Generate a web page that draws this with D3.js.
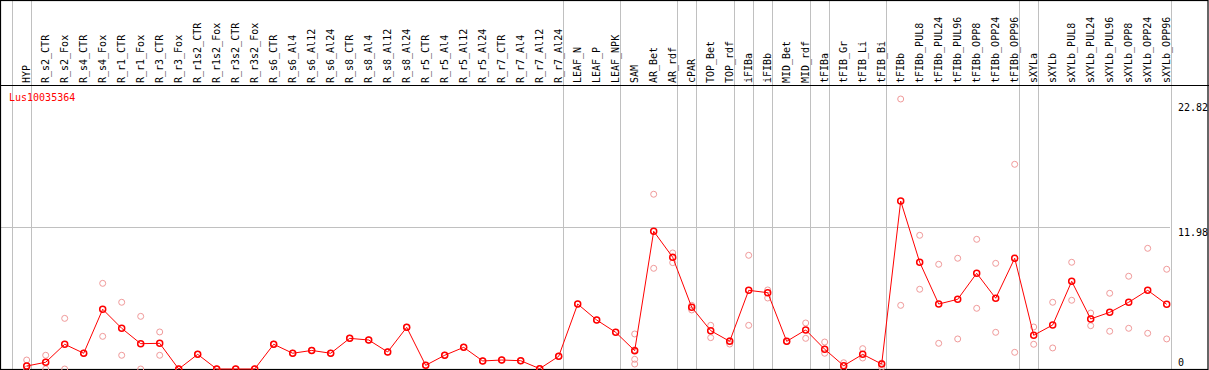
<!DOCTYPE html>
<html><head><meta charset="utf-8">
<script src="https://cdn.jsdelivr.net/npm/d3@7"></script>
<style>html,body{margin:0;padding:0;background:#fff;}svg{display:block;}</style>
</head><body>
<script>
const categories = ["HYP","R_s2_CTR","R_s2_Fox","R_s4_CTR","R_s4_Fox","R_r1_CTR","R_r1_Fox","R_r3_CTR","R_r3_Fox","R_r1s2_CTR","R_r1s2_Fox","R_r3s2_CTR","R_r3s2_Fox","R_s6_CTR","R_s6_Al4","R_s6_Al12","R_s6_Al24","R_s8_CTR","R_s8_Al4","R_s8_Al12","R_s8_Al24","R_r5_CTR","R_r5_Al4","R_r5_Al12","R_r5_Al24","R_r7_CTR","R_r7_Al4","R_r7_Al12","R_r7_Al24","LEAF_N","LEAF_P","LEAF_NPK","SAM","AR_Bet","AR_rdf","cPAR","TOP_Bet","TOP_rdf","iFIBa","iFIBb","MID_Bet","MID_rdf","tFIBa","tFIB_Gr","tFIB_Li","tFIB_Bi","tFIBb","tFIBb_PUL8","tFIBb_PUL24","tFIBb_PUL96","tFIBb_OPP8","tFIBb_OPP24","tFIBb_OPP96","sXYLa","sXYLb","sXYLb_PUL8","sXYLb_PUL24","sXYLb_PUL96","sXYLb_OPP8","sXYLb_OPP24","sXYLb_OPP96"];
const meanValues = [0.25,0.57,2.09,1.33,5.05,3.44,2.14,2.17,0,1.24,0,0,0,2.09,1.33,1.57,1.33,2.59,2.45,1.44,3.52,0.31,1.16,1.83,0.68,0.76,0.70,0.03,1.07,5.49,4.14,3.10,1.55,11.64,9.44,5.22,3.24,2.34,6.65,6.45,2.34,3.30,1.67,0.28,1.24,0.42,14.2,9.02,5.49,5.89,8.09,5.98,9.36,2.85,3.72,7.41,4.23,4.79,5.64,6.65,5.47];
const replicateValues = [[0.76,0],[1.16,0],[4.28,0],[1.33,1.33],[7.24,2.76],[5.64,1.16],[4.45,0],[3.13,1.16],[0,0],[1.24,1.24],[0,0],[0,0],[0,0],
[2.09,2.09],[1.33,1.33],[1.57,1.57],[1.33,1.33],[2.59,2.59],[2.45,2.45],[1.44,1.44],[3.52,3.52],[0.31,0.31],[1.16,1.16],[1.83,1.83],[0.68,0.68],[0.76,0.76],[0.70,0.70],[0.03,0.03],[1.07,1.07],
[5.49],[4.14],[3.10],[2.96,1.62,0.82,0.42],[14.77,8.51],[9.81,8.99],[5.38,4.99],[3.69,2.65],[2.4,2.11],[9.61,3.69],[6.68,6.0],[2.34,2.34],[3.89,2.59],[2.28,1.33],[0.53,0.05],[1.72,0.93],[0.14,0.5],
[22.82,5.38],[11.30,6.74],[8.85,2.17],[9.36,2.54],[10.96,5.13],[8.93,3.10],[17.30,1.41],[3.55,2.09],[5.64,1.78],[9.02,5.81],[4.73,3.66],[6.40,3.19],[7.84,3.44],[10.20,3.02],[8.43,2.54]];
const separatorsAfter = ["HYP","R_r7_Al24","LEAF_NPK","AR_rdf","cPAR","TOP_rdf","iFIBa","iFIBb","MID_rdf","tFIBa","tFIB_Bi","tFIBb_OPP96","sXYLa","sXYLb_OPP96"];
const yTicks = [0, 11.98, 22.82];
const yTickLabels = ["0", "11.98", "22.82"];
const geneName = "Lus10035364";

const W = 1209, H = 370;
const headerBottom = 85, plotBottom = 369, plotRight = 1170;
const font = "'DejaVu Sans Mono', monospace";
const svg = d3.select("body").append("svg").attr("width", W).attr("height", H);

const x = d3.scalePoint().domain(categories).range([26.7, 1166.7]);
const y = d3.scaleLinear().domain([0, 22.82]).range([plotBottom, 99]);
const step = x.step();

// vertical separators
const sepX = [x(categories[0]) - step + 4].concat(separatorsAfter.map(c => x(c) + 4));
svg.append("g").selectAll("line").data(sepX).join("line")
  .attr("x1", d => Math.round(d) + 0.5).attr("x2", d => Math.round(d) + 0.5)
  .attr("y1", 0).attr("y2", plotBottom)
  .attr("stroke", "#c0c0c0").attr("stroke-width", 1);

// horizontal gridline at middle tick
svg.append("line")
  .attr("x1", 1).attr("x2", plotRight)
  .attr("y1", Math.round(y(yTicks[1])) + 0.5).attr("y2", Math.round(y(yTicks[1])) + 0.5)
  .attr("stroke", "#c0c0c0").attr("stroke-width", 1);

// borders
svg.append("rect").attr("x", 0.5).attr("y", 0.5).attr("width", W - 1.5).attr("height", plotBottom)
  .attr("fill", "none").attr("stroke", "#000").attr("stroke-width", 1.2);
svg.append("line").attr("x1", 0).attr("x2", W).attr("y1", headerBottom + 0.5).attr("y2", headerBottom + 0.5)
  .attr("stroke", "#000").attr("stroke-width", 1.2);

// category labels
svg.append("g").selectAll("text").data(categories).join("text")
  .attr("transform", d => `translate(${x(d)},${headerBottom - 2}) rotate(-90)`)
  .attr("dy", "0.35em")
  .attr("font-family", font).attr("font-size", 10).attr("fill", "#000")
  .text(d => d);

// y axis labels
const yOffsets = [-7, 5, 8];
svg.append("g").selectAll("text").data(yTicks).join("text")
  .attr("x", 1178).attr("y", (d, i) => y(d) + yOffsets[i]).attr("dy", "0.35em")
  .attr("font-family", font).attr("font-size", 10).attr("fill", "#000")
  .text((d, i) => yTickLabels[i]);

// gene name
svg.append("text").attr("x", 9).attr("y", 97).attr("dy", "0.35em")
  .attr("font-family", font).attr("font-size", 10).attr("fill", "#ff0000").text(geneName);

// replicates
const reps = [];
replicateValues.forEach((arr, i) => arr.forEach(v => reps.push({c: categories[i], v})));
svg.append("g").selectAll("circle").data(reps).join("circle")
  .attr("cx", d => x(d.c)).attr("cy", d => y(d.v)).attr("r", 3)
  .attr("fill", "none").attr("stroke", "#f09a9a").attr("stroke-width", 1);

// mean line
const pts = categories.map((c, i) => ({c, v: meanValues[i]}));
svg.append("path").datum(pts)
  .attr("d", d3.line().x(d => x(d.c)).y(d => y(d.v)))
  .attr("fill", "none").attr("stroke", "#ff0000").attr("stroke-width", 1);

svg.append("g").selectAll("circle").data(pts).join("circle")
  .attr("cx", d => x(d.c)).attr("cy", d => y(d.v)).attr("r", 3)
  .attr("fill", "none").attr("stroke", "#ff0000").attr("stroke-width", 1.5);
</script>
</body></html>
